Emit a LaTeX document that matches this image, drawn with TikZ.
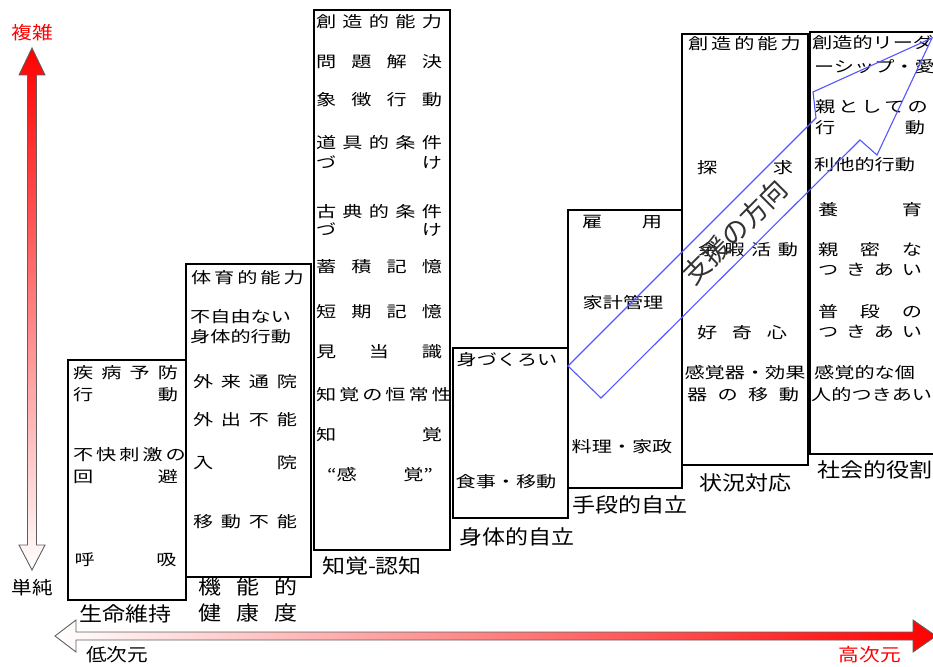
\documentclass[tikz,border=0pt]{standalone}
\usepackage{fontspec}
\newfontfamily\jp[FakeStretch=1.3]{Noto Sans CJK JP}
\newfontfamily\jpl[FakeStretch=1.15]{Noto Sans CJK JP}
\newfontfamily\jpa{Noto Sans CJK JP}
\newcommand\kin[2]{\makebox[#1pt][s]{#2}}
\definecolor{sienblue}{RGB}{85,85,255}
\definecolor{axisgray}{RGB}{95,95,95}
\begin{document}
\begin{tikzpicture}[x=1pt,y=-1pt]
\tikzstyle{every node}+=[inner sep=0pt]
\tikzstyle{box}=[draw=black,line width=1.1pt,fill=white]
\tikzstyle{txt}=[font=\jp\fontsize{15.5}{16}\selectfont]
\tikzstyle{lab}=[font=\jpl\fontsize{20}{21}\selectfont]
\useasboundingbox (0,0) rectangle (933,666);
\clip (0,0) rectangle (933,666);
% axes
\shade [draw=axisgray,line width=0.9pt,top color=red,middle color=red!60,bottom color=white]
  (32,48) -- (45,75) -- (36.5,75) -- (36.5,545) -- (45,545) -- (32,570) -- (19,545) -- (27.5,545) -- (27.5,75) -- (19,75) -- cycle;
\node [lab,text=red,font=\jpl\fontsize{18}{19}\selectfont] (fukuzatsu) at (32,33) {複雑};
\node [lab,font=\jpl\fontsize{18}{19}\selectfont] (tanjun) at (32,588) {単純};
\shade [draw=axisgray,line width=0.9pt,left color=white,middle color=red!30,right color=red]
  (55,636) -- (76,620) -- (76,632) -- (913,632) -- (913,620) -- (936,636) -- (913,652) -- (913,640) -- (76,640) -- (76,652) -- cycle;
\node [lab,anchor=west,font=\jpl\fontsize{18}{19}\selectfont] (teijigen) at (86,655) {低次元};
\node [lab,text=red,font=\jpl\fontsize{18}{19}\selectfont] (koujigen) at (870,655) {高次元};
% boxes
\draw [box] (68,360) rectangle (186,600);
\draw [box] (186,264) rectangle (311,577);
\draw [box] (314,10) rectangle (450,550);
\draw [box] (453,348) rectangle (568,518);
\draw [box] (568,210) rectangle (682,488);
\draw [box] (682,34) rectangle (808,465);
\draw [box] (810,32) rectangle (940,454);
% seimei iji
\node [txt] (s1a) at (125.5,373) {\kin{105}{疾 病 予 防}};
\node [txt] (s1b) at (125.5,395) {\kin{105}{行 動}};
\node [txt] (s1c) at (125.5,455) {\kin{105}{不 快 刺 激 の}};
\node [txt] (s1d) at (125.5,477) {\kin{105}{回 避}};
\node [txt] (s1e) at (125.5,560) {\kin{102}{呼 吸}};
\node [lab] (seimei) at (125,614) {生命維持};
% kinouteki kenkoudo
\node [txt] (s2a) at (245.5,278) {\kin{109}{体 育 的 能 力}};
\node [txt,anchor=west] (s2b) at (190,317) {不自由ない};
\node [txt,anchor=west] (s2c) at (190,337) {身体的行動};
\node [txt] (s2d) at (245,382) {\kin{104}{外 来 通 院}};
\node [txt] (s2e) at (245,420) {\kin{104}{外 出 不 能}};
\node [txt] (s2f) at (245,463) {\kin{104}{入 院}};
\node [txt] (s2g) at (245,522) {\kin{104}{移 動 不 能}};
\node [lab] (kinou) at (248,587) {\kin{100}{機 能 的}};
\node [lab] (kenkou) at (248,613) {\kin{100}{健 康 度}};
% chikaku ninchi
\node [txt] (s3a) at (379,22) {\kin{126}{創 造 的 能 力}};
\node [txt] (s3b) at (379,62) {\kin{126}{問 題 解 決}};
\node [txt] (s3c) at (379,100) {\kin{126}{象 徴 行 動}};
\node [txt] (s3d) at (379,143) {\kin{126}{道 具 的 条 件}};
\node [txt] (s3e) at (379,163) {\kin{126}{づ け}};
\node [txt] (s3f) at (379,212) {\kin{126}{古 典 的 条 件}};
\node [txt] (s3g) at (379,230) {\kin{126}{づ け}};
\node [txt] (s3h) at (379,267) {\kin{126}{蓄 積 記 憶}};
\node [txt] (s3i) at (379,312) {\kin{126}{短 期 記 憶}};
\node [txt] (s3j) at (379,352) {\kin{126}{見 当 識}};
\node [txt] (s3k) at (379,395) {\kin{126}{知 覚 の 恒 常 性}};
\node [txt] (s3l) at (379,435) {\kin{126}{知 覚}};
\node [txt] (s3m) at (380,475) {\kin{106}{“感 覚”}};
\node [lab] (chikaku) at (372,566) {知覚-認知};
% shintaiteki jiritsu
\node [txt] (s4a) at (507,360) {身づくろい};
\node [txt] (s4b) at (506,482) {食事・移動};
\node [lab] (shintai) at (517,537) {身体的自立};
% shudanteki jiritsu
\node [txt] (s5a) at (622,222) {\kin{80}{雇 用}};
\node [txt] (s5b) at (623,303) {家計管理};
\node [txt] (s5c) at (622,447) {料理・家政};
\node [lab] (shudan) at (630,505) {手段的自立};
% joukyou taiou
\node [txt] (s6a) at (743,44) {\kin{110}{創 造 的 能 力}};
\node [txt] (s6b) at (745,168) {\kin{96}{探 求}};
\node [txt] (s6c) at (748,250) {\kin{100}{余 暇 活 動}};
\node [txt] (s6d) at (742,333) {\kin{90}{好 奇 心}};
\node [txt] (s6e) at (745,373) {感覚器・効果};
\node [txt] (s6f) at (743,395) {\kin{112}{器 の 移 動}};
\node [lab] (joukyou) at (745,483) {状況対応};
% shakaiteki yakuwari
\node [txt,anchor=west] (s7a) at (812,43) {創造的リーダ};
\node [txt,anchor=west] (s7b) at (814,67) {ーシップ・愛};
\node [txt] (s7c) at (870,107) {\kin{110}{親 と し て の}};
\node [txt] (s7d) at (870,128) {\kin{110}{行 動}};
\node [txt,anchor=west] (s7e) at (814,165) {利他的行動};
\node [txt] (s7f) at (870,210) {\kin{104}{養 育}};
\node [txt] (s7g) at (870,250) {\kin{104}{親 密 な}};
\node [txt] (s7h) at (870,270) {\kin{104}{つ き あ い}};
\node [txt] (s7i) at (870,312) {\kin{104}{普 段 の}};
\node [txt] (s7j) at (870,332) {\kin{104}{つ き あ い}};
\node [txt,anchor=west] (s7k) at (814,373) {感覚的な個};
\node [txt,anchor=west] (s7l) at (811,395) {人的つきあい};
\node [lab,anchor=west] (shakai) at (817,470) {社会的役割};
% shien no houkou
\draw [sienblue,line width=1.1pt,line join=miter]
  (568,366) -- (816,118) -- (813,92) -- (932,38) -- (877,155) -- (860,140) -- (601,398) -- cycle;
\node [font=\jpa\fontsize{27}{28}\selectfont,text=black!80,rotate=45] (shien) at (735,232) {支援の方向};
\end{tikzpicture}
\end{document}
